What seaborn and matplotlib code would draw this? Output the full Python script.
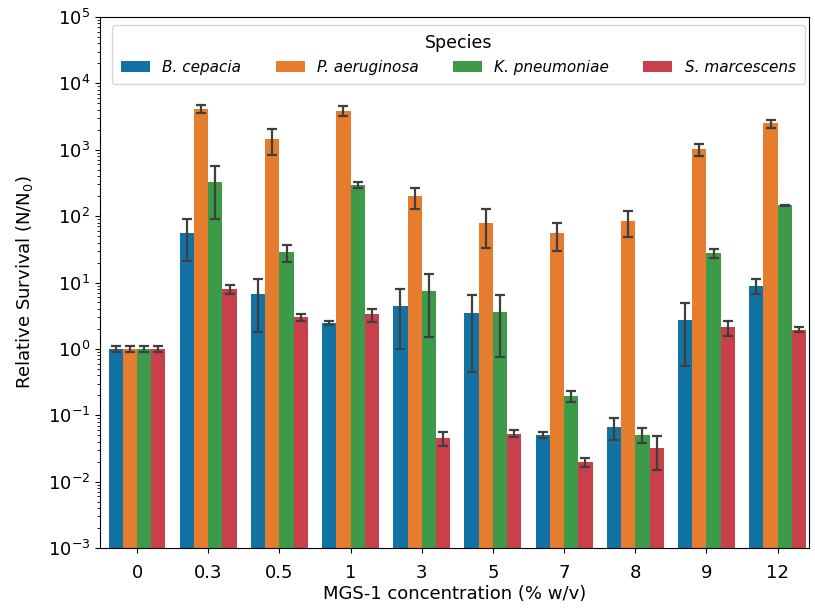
import numpy as np
import pandas as pd
import matplotlib
matplotlib.use("Agg")
import matplotlib.pyplot as plt
import seaborn as sns

concentrations = ["0", "0.3", "0.5", "1", "3", "5", "7", "8", "9", "12"]
species = ["B. cepacia", "P. aeruginosa", "K. pneumoniae", "S. marcescens"]

b_cepacia_mean = [1.0, 55, 6.6, 2.43, 4.5, 3.45, 0.051, 0.067, 2.7, 8.9]
b_cepacia_sd = [0.1, 34, 4.8, 0.17, 3.5, 3.0, 0.005, 0.024, 2.15, 2.2]
p_aeruginosa_mean = [1.0, 4100, 1450, 3900, 198, 80, 55, 84, 1010, 2500]
p_aeruginosa_sd = [0.1, 570, 620, 730, 68, 47, 25, 36, 195, 345]
k_pneumoniae_mean = [1.0, 330, 28.5, 295, 7.5, 3.6, 0.197, 0.051, 27.9, 146]
k_pneumoniae_sd = [0.1, 240, 8, 30, 6, 2.85, 0.038, 0.013, 4.5, 2.5]
s_marcescens_mean = [1.0, 8.0, 3.0, 3.3, 0.045, 0.053, 0.0198, 0.032, 2.1, 1.95]
s_marcescens_sd = [0.1, 1.2, 0.37, 0.72, 0.011, 0.006, 0.003, 0.017, 0.53, 0.15]

colors = ["#1372a4", "#e67c2e", "#3c9a48", "#c9404a"]

means = [b_cepacia_mean, p_aeruginosa_mean, k_pneumoniae_mean, s_marcescens_mean]
sds = [b_cepacia_sd, p_aeruginosa_sd, k_pneumoniae_sd, s_marcescens_sd]

rows = []
for sp, m, s in zip(species, means, sds):
    for c, mv, sv in zip(concentrations, m, s):
        rows.append({"Concentration": c, "Species": sp, "Survival": mv, "SD": sv})
df = pd.DataFrame(rows)

fig = plt.figure(figsize=(8.15, 6.1), dpi=100)
ax = fig.add_axes([100 / 815, 62 / 610, 709 / 815, 531 / 610])

sns.barplot(data=df, x="Concentration", y="Survival", hue="Species",
            order=concentrations, hue_order=species, errorbar=None,
            palette=colors, saturation=1, ax=ax)

for cont, sp in zip(ax.containers, species):
    sub = df[df["Species"] == sp].set_index("Concentration").loc[concentrations]
    xs = [p.get_x() + p.get_width() / 2 for p in cont.patches]
    ax.errorbar(xs, sub["Survival"].values, yerr=sub["SD"].values, fmt="none",
                ecolor="#3f3f3f", elinewidth=1.6, capsize=3.5, capthick=1.6, zorder=5)

ax.set_yscale("log")
ax.set_ylim(1e-3, 1e5)
ax.set_xlim(-0.52, 9.44)
ax.set_xlabel("MGS-1 concentration (% w/v)", fontsize=13, labelpad=2)
ax.set_ylabel(r"Relative Survival (N/N$_0$)", fontsize=13, labelpad=9)
ax.tick_params(axis="both", labelsize=13)
ax.tick_params(axis="x", pad=8)

leg = ax.legend(title="Species", ncol=4, loc="upper left",
                bbox_to_anchor=(0.017, 0.0, 0.977, 0.985), mode="expand",
                borderaxespad=0, title_fontsize=12.5,
                prop={"style": "italic", "size": 11},
                handlelength=1.9, borderpad=0.6, frameon=True)

fig.savefig("out.png", dpi=100)
